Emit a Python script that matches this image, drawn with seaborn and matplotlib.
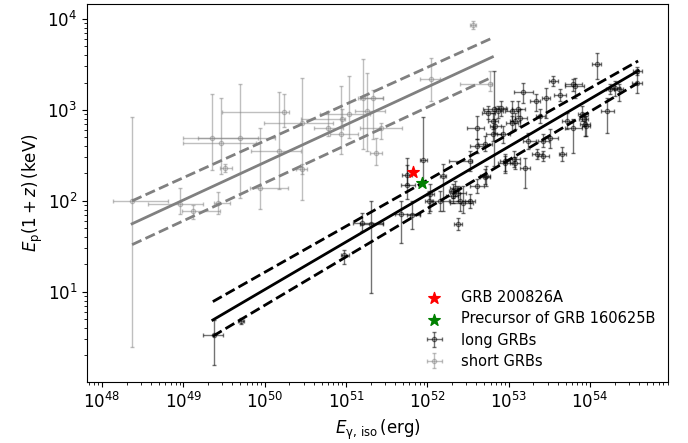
import numpy as np
import pandas as pd
import seaborn as sns
import matplotlib
matplotlib.use('Agg')
from matplotlib import pyplot as plt

# valores em log10: E_iso (erg) e E_p(1+z) (keV), com limites inferior / superior
# GRBs curtos
short_logE    = [48.37, 48.96, 49.12, 49.35, 49.46, 49.70, 50.24, 50.17, 49.94, 50.46, 50.46, 49.51, 49.43,
                 50.94, 51.04, 51.21, 51.33, 51.26, 51.43, 51.37, 50.78, 52.05, 52.77, 52.56, 50.95]
short_logE_lo = [48.14, 48.57, 48.98, 49.00, 49.00, 49.18, 49.48, 49.83, 49.82, 49.99, 50.39, 49.45, 49.37,
                 50.80, 50.68, 51.15, 51.17, 51.11, 51.17, 51.30, 50.60, 51.91, 52.40, 52.53, 50.44]
short_logE_hi = [48.81, 49.24, 49.45, 49.92, 49.89, 50.13, 50.30, 50.44, 50.29, 50.84, 50.52, 49.60, 49.57,
                 51.15, 51.30, 51.46, 51.46, 51.48, 51.69, 51.44, 50.96, 52.16, 52.80, 52.60, 50.99]
short_logEp    = [2.00, 1.97, 1.89, 2.69, 2.64, 2.69, 2.98, 2.55, 2.14, 2.86, 2.35, 2.36, 1.98,
                  2.74, 2.96, 3.13, 3.13, 2.99, 2.80, 2.53, 2.80, 3.34, 3.29, 3.93, 2.90]
short_logEp_lo = [0.39, 1.86, 1.80, 2.34, 2.29, 2.03, 2.81, 2.13, 1.91, 2.01, 2.30, 2.32, 1.86,
                  2.51, 2.69, 2.57, 2.68, 2.55, 2.68, 2.39, 2.71, 3.10, 3.21, 3.89, 2.82]
short_logEp_hi = [2.92, 2.14, 1.95, 3.17, 3.13, 3.28, 3.18, 3.20, 2.80, 3.35, 2.41, 2.41, 2.10,
                  3.26, 3.37, 3.56, 3.22, 3.41, 2.86, 2.69, 2.99, 3.57, 3.43, 3.98, 3.01]

# GRBs longos
long_logE = [49.37, 49.71, 50.98, 51.20, 51.31, 51.67, 51.81, 51.75, 51.75, 51.95, 52.02, 52.19, 52.16, 52.38,
             52.34, 52.38, 52.31, 52.40, 52.44, 52.61, 52.72, 52.53, 52.96, 53.06, 53.20, 52.61, 52.82, 52.90,
             53.04, 53.08, 53.14, 53.18, 53.33, 53.46, 53.54, 53.63, 53.81, 54.08, 54.21, 54.31, 54.58, 54.58,
             54.35, 53.35, 53.42, 53.66, 53.79, 53.94, 53.90, 53.72, 53.51, 53.42, 53.24, 52.71, 52.61, 52.81,
             52.93, 52.96, 52.71, 52.53, 52.87, 53.12, 53.39, 53.04, 53.79, 54.25, 53.92, 53.95, 52.32, 53.08,
             52.03, 52.75, 52.81, 52.83]
long_logE_lo = [49.24, 49.67, 50.94, 51.08, 51.17, 51.60, 51.75, 51.67, 51.69, 51.91, 51.97, 52.16, 52.06, 52.33,
                52.28, 52.28, 52.23, 52.28, 52.28, 52.53, 52.65, 52.26, 52.87, 52.96, 53.14, 52.49, 52.68, 52.83,
                52.96, 53.02, 53.08, 53.06, 53.26, 53.41, 53.49, 53.56, 53.69, 54.03, 54.13, 54.25, 54.52, 54.53,
                54.30, 53.29, 53.36, 53.62, 53.69, 53.88, 53.85, 53.66, 53.45, 53.36, 53.17, 52.62, 52.53, 52.72,
                52.86, 52.89, 52.65, 52.46, 52.69, 53.04, 53.33, 52.97, 53.69, 54.20, 53.86, 53.90, 52.26, 53.02,
                51.99, 52.67, 52.75, 52.77]
long_logE_hi = [49.49, 49.75, 51.03, 51.46, 51.46, 51.91, 51.91, 51.85, 51.81, 51.99, 52.07, 52.23, 52.26, 52.43,
                52.40, 52.48, 52.38, 52.53, 52.56, 52.69, 52.77, 52.55, 53.04, 53.14, 53.26, 52.69, 52.98, 52.97,
                53.12, 53.14, 53.22, 53.30, 53.39, 53.51, 53.60, 53.71, 53.92, 54.13, 54.30, 54.37, 54.64, 54.64,
                54.40, 53.41, 53.49, 53.70, 53.90, 54.00, 53.97, 53.78, 53.61, 53.49, 53.33, 52.80, 52.71, 52.90,
                53.02, 53.02, 52.77, 52.59, 52.93, 53.20, 53.45, 53.12, 53.90, 54.30, 53.98, 54.00, 52.38, 53.14,
                52.08, 52.83, 52.87, 52.90]
long_logEp = [0.52, 0.68, 1.40, 1.76, 1.75, 1.86, 1.84, 2.17, 2.28, 2.45, 2.00, 2.27, 2.00, 1.75,
              2.14, 2.09, 2.05, 2.00, 1.98, 2.16, 2.27, 2.44, 2.42, 2.46, 2.36, 2.80, 3.01, 3.02,
              2.99, 2.88, 2.91, 3.20, 3.10, 3.13, 3.32, 3.16, 3.26, 3.51, 2.99, 3.24, 3.30, 3.43,
              3.23, 2.52, 2.49, 2.52, 2.80, 2.85, 2.96, 2.88, 2.69, 2.66, 2.66, 2.63, 2.60, 2.74,
              2.74, 2.44, 2.26, 2.00, 2.99, 3.01, 2.93, 2.86, 3.29, 3.23, 2.90, 2.82, 2.11, 2.42,
              2.08, 2.97, 2.88, 2.82]
long_logEp_lo = [0.20, 0.65, 1.31, 1.67, 0.99, 1.54, 1.69, 2.02, 2.17, 2.20, 1.87, 1.89, 1.89, 1.68,
                 2.05, 2.00, 1.98, 1.89, 1.87, 2.09, 2.16, 2.33, 2.33, 2.37, 2.14, 2.68, 2.38, 2.93,
                 2.88, 2.79, 2.82, 3.08, 2.99, 2.91, 3.26, 3.10, 3.13, 3.34, 2.75, 3.15, 3.19, 3.38,
                 3.10, 2.46, 2.44, 2.44, 2.53, 2.71, 2.88, 2.79, 2.58, 2.59, 2.57, 2.55, 2.53, 2.66,
                 2.64, 2.31, 2.19, 1.92, 2.91, 2.93, 2.86, 2.77, 3.21, 3.18, 2.82, 2.71, 2.03, 2.35,
                 1.89, 2.90, 2.79, 2.75]
long_logEp_hi = [0.69, 0.71, 1.46, 1.87, 2.00, 2.00, 2.00, 2.47, 2.39, 2.92, 2.11, 2.41, 2.11, 1.81,
                 2.22, 2.16, 2.13, 2.09, 2.16, 2.24, 2.38, 2.55, 2.49, 2.55, 2.47, 2.93, 3.43, 3.10,
                 3.10, 2.97, 3.01, 3.30, 3.18, 3.24, 3.37, 3.23, 3.35, 3.63, 3.13, 3.32, 3.41, 3.47,
                 3.29, 2.57, 2.55, 2.59, 2.90, 2.93, 3.04, 2.97, 2.79, 2.74, 2.75, 2.71, 2.68, 2.81,
                 2.82, 2.52, 2.35, 2.08, 3.04, 3.10, 3.01, 2.93, 3.34, 3.29, 2.97, 2.93, 2.19, 2.48,
                 2.19, 3.04, 2.97, 2.90]

# GRB 200826A e precursor do GRB 160625B
grb200826a_E, grb200826a_Ep = 6.7e51, 209.0
precursor_E, precursor_Ep = 8.6e51, 158.0

# ajustes (extremos das retas em log-log)
long_fit_E = [2.3e49, 3.9e54]
long_fit_Ep = [4.9, 2690.0]
long_fit_up = [7.8, 3450.0]
long_fit_low = [3.25, 1980.0]
short_fit_E = [2.34e48, 6.3e52]
short_fit_Ep = [56.0, 3820.0]
short_fit_up = [100.0, 6180.0]
short_fit_low = [33.0, 2300.0]


def to_err(c, lo, hi):
    c, lo, hi = 10**np.array(c), 10**np.array(lo), 10**np.array(hi)
    return c, [c - lo, hi - c]


fig = plt.figure(figsize=(6.88, 4.43), dpi=100)
ax = fig.add_axes([0.1265, 0.1377, 0.971 - 0.1265, 0.991 - 0.1377])
ax.set_xscale('log')
ax.set_yscale('log')

sx, sxerr = to_err(short_logE, short_logE_lo, short_logE_hi)
sy, syerr = to_err(short_logEp, short_logEp_lo, short_logEp_hi)
h_short = ax.errorbar(sx, sy, xerr=sxerr, yerr=syerr, fmt='o', ms=3, mfc='none', color='grey',
                      alpha=0.5, elinewidth=1, capsize=1.5, zorder=1)

lx, lxerr = to_err(long_logE, long_logE_lo, long_logE_hi)
ly, lyerr = to_err(long_logEp, long_logEp_lo, long_logEp_hi)
h_long = ax.errorbar(lx, ly, xerr=lxerr, yerr=lyerr, fmt='o', ms=3, mfc='none', color='k',
                     alpha=0.55, elinewidth=1, capsize=1.5, zorder=2)

fits = pd.DataFrame({'E': short_fit_E, 'Ep': short_fit_Ep, 'up': short_fit_up, 'low': short_fit_low})
sns.lineplot(data=fits, x='E', y='Ep', color='grey', lw=2, ax=ax, zorder=3)
sns.lineplot(data=fits, x='E', y='up', color='grey', lw=2, ls='--', ax=ax, zorder=3)
sns.lineplot(data=fits, x='E', y='low', color='grey', lw=2, ls='--', ax=ax, zorder=3)

fitl = pd.DataFrame({'E': long_fit_E, 'Ep': long_fit_Ep, 'up': long_fit_up, 'low': long_fit_low})
sns.lineplot(data=fitl, x='E', y='Ep', color='k', lw=2, ax=ax, zorder=4)
sns.lineplot(data=fitl, x='E', y='up', color='k', lw=2, ls='--', ax=ax, zorder=4)
sns.lineplot(data=fitl, x='E', y='low', color='k', lw=2, ls='--', ax=ax, zorder=4)

h_red = ax.scatter([grb200826a_E], [grb200826a_Ep], marker='*', s=75, color='red', zorder=6)
h_green = ax.scatter([precursor_E], [precursor_Ep], marker='*', s=75, color='green', zorder=6)

ax.set_xlim(6.53e47, 9.1e54)
ax.set_ylim(1.02, 1.46e4)
ax.tick_params(labelsize=12)
ax.set_xlabel(r'$E_{\mathrm{\gamma,\,iso}}\,\mathrm{(erg)}$', fontsize=12)
ax.set_ylabel(r'$E_{\mathrm{p}}(1+z)\,\mathrm{(keV)}$', fontsize=12, labelpad=2)

ax.legend([h_red, h_green, h_long, h_short],
          ['GRB 200826A', 'Precursor of GRB 160625B', 'long GRBs', 'short GRBs'],
          loc='lower right', frameon=False, fontsize=10.5, labelspacing=0.43)

fig.savefig('out.png', dpi=100)
